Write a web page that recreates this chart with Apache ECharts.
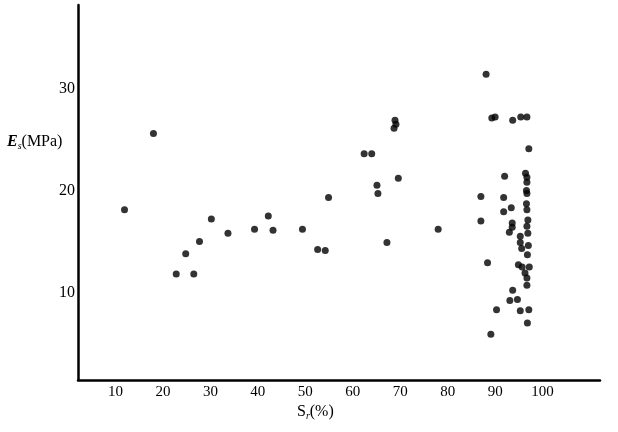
<!DOCTYPE html>
<html>
<head>
<meta charset="utf-8">
<script src="https://cdn.jsdelivr.net/npm/echarts@6/dist/echarts.min.js"></script>
<style>html,body{margin:0;padding:0;background:#fff;}#c{width:618px;height:432px;}</style>
</head>
<body>
<div id="c"></div>
<script>
const xTickLabels = [10, 20, 30, 40, 50, 60, 70, 80, 90, 100];
const yTickLabels = [10, 20, 30];
const srValues = [
  11.9, 18.0, 22.8, 24.8, 26.5, 27.7, 30.2, 33.7, 39.3, 42.2, 43.2, 49.4, 52.6, 54.2, 54.9,
  62.4, 64.0, 65.1, 65.3, 67.2, 68.9, 69.1, 68.7, 69.6, 78.0,
  88.1, 87.0, 87.0, 88.4, 89.1, 89.3, 90.0, 90.3,
  92.0, 91.8, 91.8, 93.4, 93.7, 93.6, 93.6, 93.0, 93.7, 93.1, 94.7,
  95.3, 95.3, 95.3, 95.6, 94.9, 95.7, 95.4, 96.7,
  97.1, 96.4, 96.7, 96.7, 96.6, 96.7, 96.6, 96.7, 96.9, 96.7, 96.9, 97.0, 96.8, 97.2,
  96.3, 96.7, 96.7, 97.1, 96.8
];
const esValues = [
  18.1, 25.6, 11.8, 13.8, 11.8, 15.0, 17.2, 15.8, 16.2, 17.5, 16.1, 16.2, 14.2, 14.1, 19.3,
  23.6, 23.6, 20.5, 19.7, 14.9, 26.9, 26.5, 26.1, 21.2, 16.2,
  31.4, 19.4, 17.0, 12.9, 5.9, 27.1, 27.2, 8.3,
  21.4, 19.3, 17.9, 18.3, 26.9, 16.8, 16.4, 15.9, 10.2, 9.2, 9.3,
  8.2, 15.5, 14.9, 14.3, 12.7, 12.5, 27.2, 27.2,
  24.1, 21.7, 21.3, 20.8, 20.0, 19.7, 18.7, 18.1, 17.1, 16.5, 15.8, 14.6, 13.7, 12.5,
  11.9, 11.4, 10.7, 8.3, 7.0
];

const points = srValues.map((v, i) => [v, esValues[i]]);
const serif = '"Liberation Serif", "DejaVu Serif", serif';

const chart = echarts.init(document.getElementById('c'), null, {renderer: 'canvas'});
chart.setOption({
  animation: false,
  backgroundColor: '#ffffff',
  grid: {left: 78, right: 18, top: 5, bottom: 52, containLabel: false},
  xAxis: {
    type: 'value',
    min: 2.1,
    max: 112.1,
    axisLine: {show: true, onZero: false, lineStyle: {color: '#000', width: 2.5}},
    axisTick: {show: false},
    splitLine: {show: false},
    axisLabel: {
      customValues: xTickLabels,
      color: '#000', fontFamily: serif, fontSize: 15, margin: 5
    }
  },
  yAxis: {
    type: 'value',
    min: 1.4,
    max: 38.2,
    axisLine: {show: true, onZero: false, lineStyle: {color: '#000', width: 2.5}},
    axisTick: {show: false},
    splitLine: {show: false},
    axisLabel: {
      customValues: yTickLabels,
      color: '#000', fontFamily: serif, fontSize: 16, margin: 3
    }
  },
  graphic: [
    {
      type: 'text', left: 7, top: 134,
      style: {
        text: '{e|E}{s|s}{n|(MPa)}',
        fill: '#000',
        rich: {
          e: {fontFamily: serif, fontSize: 16, fontStyle: 'italic', fontWeight: 'bold', fill: '#000'},
          s: {fontFamily: serif, fontSize: 10, fontStyle: 'italic', fill: '#000', padding: [8, 0, 0, 0]},
          n: {fontFamily: serif, fontSize: 16, fill: '#000'}
        }
      }
    },
    {
      type: 'text', left: 297, top: 404,
      style: {
        text: '{e|S}{s|r}{n|(%)}',
        fill: '#000',
        rich: {
          e: {fontFamily: serif, fontSize: 16, fill: '#000'},
          s: {fontFamily: serif, fontSize: 10, fontStyle: 'italic', fill: '#000', padding: [8, 0, 0, 0]},
          n: {fontFamily: serif, fontSize: 16, fill: '#000'}
        }
      }
    }
  ],
  series: [{
    type: 'scatter',
    data: points,
    symbol: 'circle',
    symbolSize: 7,
    itemStyle: {color: '#000'}
  }]
});
</script>
</body>
</html>
